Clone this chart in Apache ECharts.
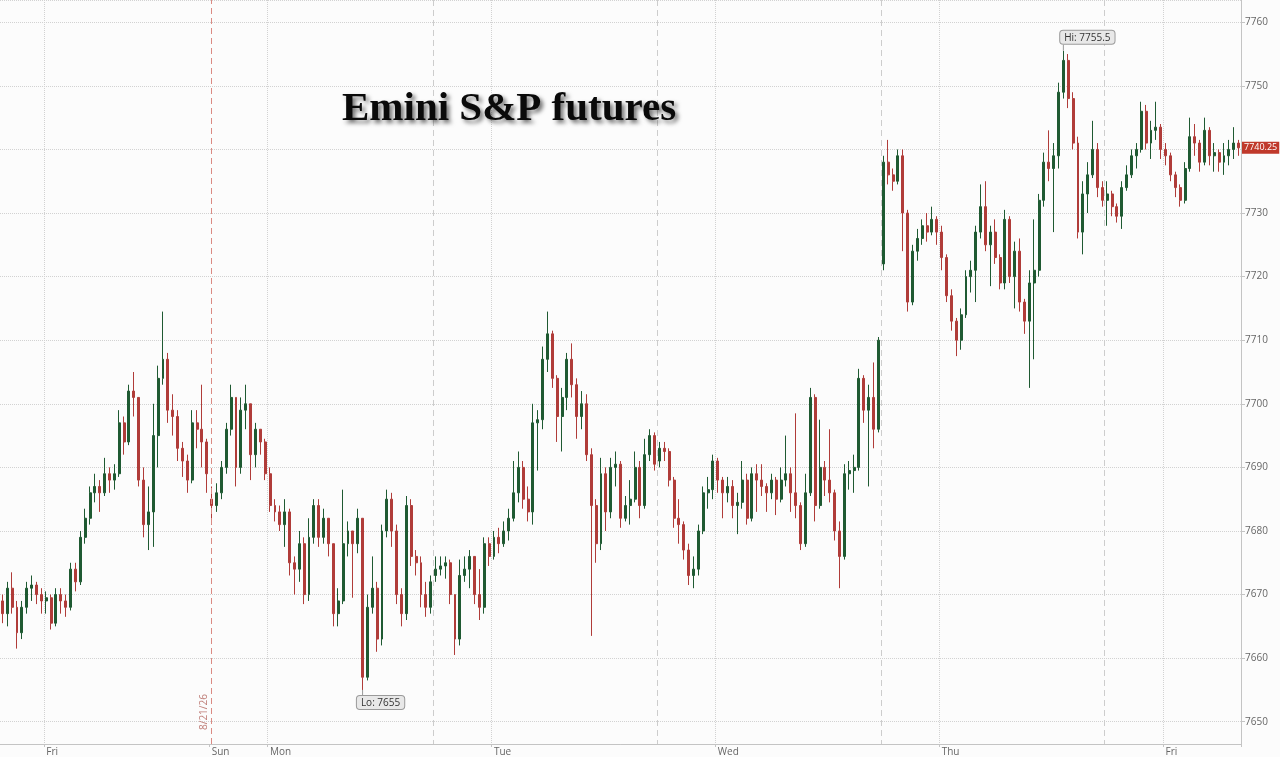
<!DOCTYPE html>
<html>
<head>
<meta charset="utf-8">
<script src="https://cdn.jsdelivr.net/npm/echarts@6.0.0/dist/echarts.min.js"></script>
<style>
html,body{margin:0;padding:0;background:#fcfcfc;}
#chart{width:1280px;height:757px;}
</style>
</head>
<body>
<div id="chart"></div>
<script>
// ---- text / labels ----
const titleText = 'Emini S&P futures';
const dayNames = ['Sun', 'Mon', 'Tue', 'Wed', 'Thu', 'Fri', 'Sat'];

// ---- session start times (30-minute bars, wall clock) ----
const sessionStarts = ['2026-08-20T19:30', '2026-08-23T18:00', '2026-08-24T18:00',
                       '2026-08-25T18:00', '2026-08-26T18:00', '2026-08-27T18:00'];

// ---- bars per session: [open, close, low, high] ----
const thuFriBars = [
[7669,7667,7665.5,7670],[7667,7671,7665,7672],[7671,7668,7667,7673.5],[7668,7664,7661.5,7669],[7664,7668,7663,7669],
[7668,7671,7667,7672],[7671,7671.5,7669,7673],[7671.5,7670,7668.5,7672],[7670,7669,7667,7671],[7669,7669.5,7667,7670.5],
[7669.5,7665.5,7664.5,7670],[7665.5,7670,7665,7671],[7670,7669,7667,7671],[7669,7668,7666.5,7670],[7668,7674,7667.5,7675],
[7674,7672,7670.5,7675],[7672,7679,7671.5,7680],[7679,7682,7678,7683.5],[7682,7686,7681,7687],[7686,7687,7684.5,7689],
[7687,7686,7683,7688],[7686,7689,7685.5,7691.5],[7689,7688,7686,7690],[7688,7689,7686.5,7690.5],[7689,7697,7688.5,7699],
[7697,7694,7692,7698],[7694,7702,7693.5,7703],[7702,7701,7698,7705],[7701,7688,7687,7701],[7688,7681,7679,7690],
[7681,7683,7677,7687],[7683,7695,7677.5,7700],[7695,7704,7690,7706],[7704,7707,7703,7714.5],[7707,7699,7697,7708],
[7699,7698,7695,7701.5],[7698,7693,7691,7699],[7693,7691,7688.5,7694],[7691,7688,7686,7692],[7688,7697,7687.5,7699],
[7697,7696,7693,7699],[7696,7694,7690,7703],[7694,7689,7686,7694.5]
];
const sunMonBars = [
[7685,7684,7681,7687],[7684,7686,7683,7687.5],[7686,7690,7685,7691],[7690,7696,7689,7697],[7696,7701,7695,7703],
[7701,7690,7687,7701],[7690,7699,7689,7701],[7699,7700,7696,7703],[7700,7692,7688,7700],[7692,7696,7690,7697],
[7696,7694,7692,7696],[7694,7689,7688,7694.5],[7689,7684,7683,7690],[7684,7683,7681.5,7685],[7683,7681,7680,7684],
[7681,7683,7677.5,7685],[7683,7675,7673,7683.5],[7675,7674,7670,7676],[7674,7678,7672,7680],[7678,7670,7668.5,7679],
[7670,7679,7669,7682],[7679,7684,7678,7685],[7684,7679,7677.5,7685],[7679,7682,7678,7683.5],[7682,7678,7676,7682],
[7678,7667,7665,7678],[7667,7669,7665,7671],[7669,7678,7668.5,7686.5],[7678,7680,7676,7681.5],[7680,7678,7669.5,7680],
[7678,7682,7676.5,7683.5],[7682,7657,7655,7682],[7657,7668,7656.5,7670],[7668,7671,7667,7676],[7671,7663,7661,7672],
[7663,7680,7662,7681],[7680,7685,7679,7686.5],[7685,7680,7677.5,7686],[7680,7670,7668.5,7681],[7670,7667,7665,7671],
[7667,7684,7666,7685.5],[7684,7676,7674.5,7685],[7676,7675,7673,7677],[7675,7670,7668,7676],[7670,7668,7666.5,7672],
[7668,7672,7667,7673]
];
const monTueBars = [
[7673,7674,7672,7676],[7674,7674.5,7673,7676],[7674.5,7675,7672.5,7676],[7675,7670,7668.5,7675.5],[7670,7663,7660.5,7670],
[7663,7673,7662,7675.5],[7673,7674,7672,7676],[7674,7676,7671,7677],[7676,7670,7668.5,7676],[7670,7668,7666,7674],
[7668,7678,7667,7679],[7678,7676,7674.5,7679],[7676,7679,7675.5,7680],[7679,7678,7676.5,7680.5],[7678,7680,7677.5,7681.5],
[7680,7682,7678.5,7683.5],[7682,7686,7681.5,7691],[7686,7690,7684.5,7692.5],[7690,7685,7683.5,7691],[7685,7683,7681.5,7687],
[7683,7697,7681,7700],[7697,7697.5,7689.5,7699],[7697.5,7707,7696,7709],[7707,7711,7705,7714.5],[7711,7704,7702.5,7711.5],
[7704,7698,7694,7704.5],[7698,7701,7692.5,7702.5],[7701,7707,7699,7708],[7707,7703,7701,7709.5],[7703,7698,7694.5,7704],
[7698,7700,7696,7702],[7700,7692,7691,7701.5],[7692,7684,7663.5,7693],[7684,7678,7675,7685],[7678,7689,7677,7691.5],
[7689,7683,7680,7690],[7683,7690,7682,7691.5],[7690,7690.5,7687,7692.5],[7690.5,7682,7680.5,7691],[7682,7684,7681.5,7685.5],
[7684,7685,7681,7688],[7685,7690,7684.5,7692.5],[7690,7684,7682,7691],[7684,7692,7683.5,7694.5],[7692,7695,7691,7696],
[7695,7690.5,7689.5,7695.5]
];
const tueWedBars = [
[7691,7693,7690,7694],[7693,7692.5,7691,7694],[7692.5,7688,7687,7693],[7688,7682,7680.5,7688.5],[7682,7681,7678,7685],
[7681,7677,7675.5,7681.5],[7677,7673,7671.5,7678],[7673,7674,7671,7676],[7674,7680,7673,7681],[7680,7686,7679.5,7687],
[7686,7686.5,7683.5,7688.5],[7686.5,7691,7685,7692],[7691,7688,7686,7691.5],[7688,7686,7682,7688.5],[7686,7687,7684.5,7688.5],
[7687,7684,7682,7688],[7684,7684.5,7679.5,7686],[7684.5,7688,7683.5,7691],[7688,7682,7681,7689],[7682,7689,7681.5,7690],
[7689,7688,7683,7690.5],[7688,7687,7685.5,7690.5],[7687,7686,7683,7687.5],[7686,7688,7685,7689],[7688,7685,7682.5,7688.5],
[7685,7688,7684.5,7690],[7688,7689,7687,7695],[7689,7686,7683,7690],[7686,7684,7682,7698.5],[7684,7678,7677,7684.5],
[7678,7686,7677.5,7689],[7686,7701,7685.5,7702.5],[7701,7684,7681.5,7701.5],[7684,7690,7683.5,7697.5],[7690,7688,7685.5,7691],
[7688,7686,7684.5,7696],[7686,7680,7678.5,7686.5],[7680,7676,7671,7681.5],[7676,7689,7675.5,7690.5],[7689,7689.5,7686.5,7691],
[7689.5,7690,7686,7692],[7690,7704,7689.5,7705.5],[7704,7699,7697,7704.5],[7699,7701,7687,7703],[7701,7696,7693,7706.5],
[7696,7710,7695.5,7710.5]
];
const wedThuBars = [
[7722,7738,7721,7739],[7738,7736,7734.5,7741.5],[7736,7735,7733.5,7737],[7735,7739,7734.5,7740],[7739,7730,7724,7740],
[7730,7716,7714.5,7730.5],[7716,7724,7715.5,7725],[7724,7726,7722.5,7727.5],[7726,7728,7725,7729],[7728,7727,7725.5,7730],
[7727,7729,7726.5,7731],[7729,7727,7725,7729.5],[7727,7723,7721,7728],[7723,7717,7716,7723.5],[7717,7713,7711.5,7718],
[7713,7710,7707.5,7713.5],[7710,7714,7708.5,7715],[7714,7720,7713.5,7721],[7720,7721,7717.5,7722.5],[7721,7727,7716,7728],
[7727,7731,7726,7734.5],[7731,7725,7724,7735],[7725,7727,7718.5,7728],[7727,7723,7722,7729],[7723,7719,7718,7723.5],
[7719,7729,7718,7730.5],[7729,7720,7719,7729.5],[7720,7724,7715,7725.5],[7724,7716,7714.5,7726],[7716,7713,7711,7716.5],
[7713,7719,7702.5,7721],[7719,7721,7707,7729],[7721,7732,7720,7733],[7732,7738,7731,7739.5],[7738,7737,7735,7743],
[7737,7739,7727,7741],[7739,7749,7737,7750.5],[7749,7754,7748,7755.5],[7754,7748,7746.5,7755],[7748,7741,7740,7749],
[7741,7727,7726,7742],[7727,7733,7723.5,7735],[7733,7736,7730,7738],[7736,7740,7735.5,7744.5],[7740,7734,7732.5,7741],
[7734,7732,7731,7735]
];
const thuFri2Bars = [
[7732,7733,7728,7735],[7733,7731,7729.5,7733.5],[7731,7729.5,7728.5,7731.5],[7729.5,7734,7727.5,7735],[7734,7736,7733.5,7737.5],
[7736,7739,7735.5,7740],[7739,7740,7737,7741],[7740,7746,7739.5,7747.5],[7746,7741,7740,7747],[7741,7743,7738.5,7744.5],
[7743,7743.5,7741.5,7747.5],[7743.5,7740,7738.5,7744],[7740,7739,7737.5,7741],[7739,7736,7735,7739.5],[7736,7734,7732.5,7736.5],
[7734,7732,7731,7734.5],[7732,7737,7731.5,7738],[7737,7742,7736.5,7745],[7742,7741,7739,7744],[7741,7738,7736.5,7741.5],
[7738,7743,7737.5,7745],[7743,7739,7737.5,7743.5],[7739,7739.5,7736.5,7741],[7739.5,7738,7736.5,7740],[7738,7739,7736,7741],
[7739,7740,7737.5,7741.5],[7740,7741,7738.5,7743.5],[7741,7740.25,7739,7741.5]
];
const sessionBars = [thuFriBars, sunMonBars, monTueBars, tueWedBars, wedThuBars, thuFri2Bars];

// ---- build time axis from the session schedule ----
const pad = n => (n < 10 ? '0' : '') + n;
const categories = [], ohlc = [], times = [], dayTicks = {}, sessionBreaks = [];
let weekendBreak = null, weekendLabel = '';
sessionStarts.forEach((s, k) => {
  const t0 = Date.parse(s + ':00Z');
  const startIdx = categories.length;
  if (k > 0) {
    if (new Date(t0).getUTCDay() === 0) {
      weekendBreak = startIdx;
      const prev = times[startIdx - 1];
      weekendLabel = (prev.getUTCMonth() + 1) + '/' + prev.getUTCDate() + '/' + String(prev.getUTCFullYear()).slice(2);
    } else {
      sessionBreaks.push(startIdx);
    }
  }
  sessionBars[k].forEach((b, j) => {
    const d = new Date(t0 + j * 30 * 60000);
    const idx = categories.length;
    times.push(d);
    categories.push((d.getUTCMonth() + 1) + '/' + d.getUTCDate() + ' ' + pad(d.getUTCHours()) + ':' + pad(d.getUTCMinutes()));
    ohlc.push(b);
    if (d.getUTCHours() === 0 && d.getUTCMinutes() === 0) dayTicks[idx] = dayNames[d.getUTCDay()];
    if (j === 0 && d.getUTCDay() === 0) dayTicks[idx] = dayNames[0];
  });
});
const lastClose = ohlc[ohlc.length - 1][1];

const isDayTick = i => dayTicks[i] !== undefined;
const gridLine = { color: '#d2d2d2', type: 'dotted', width: 1 };
const axisColor = '#c4c4c4';
const labelFont = '"Open Sans", "DejaVu Sans", sans-serif';
const upColor = '#1f5a32', downColor = '#b03c39';

const chart = echarts.init(document.getElementById('chart'));
chart.setOption({
  backgroundColor: '#fcfcfc',
  animation: false,
  title: {
    text: titleText, left: 342, top: 89, padding: 0,
    textStyle: {
      fontFamily: '"Liberation Serif", "Times New Roman", serif', fontWeight: 'bold', fontSize: 41,
      color: '#0a0a0a', textShadowColor: 'rgba(0,0,0,0.55)', textShadowBlur: 4,
      textShadowOffsetX: 3, textShadowOffsetY: 3
    }
  },
  grid: { left: 0, right: 39, top: 0, bottom: 13, containLabel: false },
  xAxis: [{
    type: 'category', data: categories, boundaryGap: true,
    axisLine: { show: true, lineStyle: { color: axisColor } },
    axisTick: { show: true, length: 3, interval: isDayTick, lineStyle: { color: axisColor } },
    axisLabel: { interval: isDayTick, formatter: (v, i) => dayTicks[i] || '', color: '#666',
                 fontSize: 10, fontFamily: labelFont, margin: 3, align: 'left' },
    splitLine: { show: true, interval: i => isDayTick(i) && i !== weekendBreak, lineStyle: gridLine }
  }, {
    type: 'category', data: categories, boundaryGap: true, gridIndex: 0, position: 'bottom',
    axisLine: { show: false }, axisTick: { show: false }, axisLabel: { show: false },
    splitLine: { show: true, interval: i => sessionBreaks.includes(i),
                 lineStyle: { color: '#cdcdcd', type: [6, 4], width: 1 } }
  }],
  yAxis: {
    type: 'value', position: 'right', min: 7646.5, max: 7763.5, splitNumber: 12,
    axisLine: { show: true, lineStyle: { color: axisColor } },
    axisTick: { show: true, length: 4, lineStyle: { color: axisColor } },
    axisLabel: { color: '#666', fontSize: 10, fontFamily: labelFont, margin: 4,
                 formatter: v => String(v), showMinLabel: false, showMaxLabel: false },
    splitLine: { show: true, lineStyle: gridLine }
  },
  series: [{
    type: 'candlestick', xAxisIndex: 0, data: ohlc, barWidth: '50%',
    itemStyle: { color: upColor, color0: downColor, borderColor: upColor, borderColor0: downColor, borderWidth: 1 },
    markLine: {
      silent: true, animation: false, symbol: ['none', 'none'],
      data: [
        { xAxis: categories[weekendBreak],
          lineStyle: { color: '#db8a83', type: [6, 4], width: 1, opacity: 1 },
          label: { show: true, position: 'insideStartTop', formatter: weekendLabel, color: '#bf7e78',
                   fontSize: 10, fontFamily: labelFont, distance: [14, 3] } },
        { yAxis: lastClose, lineStyle: { color: 'rgba(0,0,0,0)', width: 0 },
          label: { show: true, position: 'end', formatter: String(lastClose), color: '#fff',
                   backgroundColor: '#c0392b', padding: [2, 2, 1, 2], fontSize: 9,
                   fontFamily: labelFont, distance: 1 } }
      ]
    },
    markPoint: {
      silent: true, animation: false, symbol: 'rect', symbolSize: [1, 6],
      itemStyle: { color: '#9a9a9a' },
      label: { show: true, color: '#333', fontSize: 10, fontFamily: labelFont, backgroundColor: '#e8e8e8',
               borderColor: '#9a9a9a', borderWidth: 1, borderRadius: 3, padding: [2, 4, 1, 4] },
      data: [
        { type: 'max', valueDim: 'highest', name: 'Hi', symbolOffset: [0, -3],
          label: { position: 'top', distance: 0, offset: [24, -1], formatter: p => 'Hi: ' + p.value } },
        { type: 'min', valueDim: 'lowest', name: 'Lo', symbolOffset: [0, 3],
          label: { position: 'bottom', distance: 0, offset: [18, 0], formatter: p => 'Lo: ' + p.value } }
      ]
    }
  }]
});
</script>
</body>
</html>
